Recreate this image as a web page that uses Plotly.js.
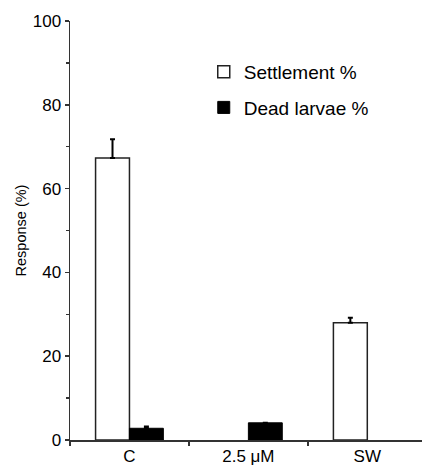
<!DOCTYPE html>
<html>
<head>
<meta charset="utf-8">
<script src="https://cdn.plot.ly/plotly-3.0.1.min.js"></script>
<style>html,body{margin:0;padding:0;background:#fff;}#chart{width:422px;height:466px;}</style>
</head>
<body>
<div id="chart"></div>
<script>
var categories = ["C", "2.5 \u03bcM", "SW"];
var settlement = [67.3, null, 28.0];
var settlementErr = [4.5, 0, 1.2];
var deadLarvae = [2.8, 4.1, null];
var deadErr = [0.4, 0, 0];
var yTicks = [0, 20, 40, 60, 80, 100];

var font = "Liberation Sans, Arial, Helvetica, sans-serif";

var traces = [
  {
    type: "bar", name: "Settlement %", x: categories, y: settlement,
    legendgroup: "a",
    marker: {color: "#ffffff", line: {color: "#222222", width: 1.5}},
    error_y: {type: "data", symmetric: false, array: settlementErr, arrayminus: [0,0,0],
              color: "#000", thickness: 2, width: 2.5}
  },
  {
    type: "bar", name: "Dead larvae %", x: categories, y: deadLarvae,
    legendgroup: "b",
    marker: {color: "#000000", line: {color: "#000000", width: 1}},
    error_y: {type: "data", symmetric: false, array: deadErr, arrayminus: [0,0,0],
              color: "#000", thickness: 2, width: 2.5}
  }
];

var layout = {
  width: 422, height: 466,
  margin: {l: 70, r: 0, t: 21, b: 26},
  paper_bgcolor: "#fff", plot_bgcolor: "#fff",
  font: {family: font, color: "#000", size: 17},
  barmode: "group", bargap: 0.43, bargroupgap: 0,
  showlegend: true,
  legend: {x: 0.38, y: 0.924, xanchor: "left", yanchor: "top",
           font: {size: 19, family: font}, bgcolor: "rgba(0,0,0,0)",
           tracegroupgap: 8, traceorder: "grouped"},
  xaxis: {
    type: "category", range: [-0.5, 2.46],
    showline: true, linecolor: "#333", linewidth: 1.5,
    ticks: "outside", tickson: "boundaries", ticklen: 4, tickcolor: "#333", tickwidth: 1.5,
    showgrid: false, zeroline: false, tickfont: {size: 17},
    fixedrange: true
  },
  yaxis: {
    range: [0, 100], tickvals: yTicks,
    showline: true, linecolor: "#333", linewidth: 1.5,
    ticks: "outside", ticklen: 4, tickcolor: "#333", tickwidth: 1.5,
    minor: {dtick: 10, ticks: "outside", ticklen: 3, tickcolor: "#333", tickwidth: 1.5},
    showgrid: false, zeroline: false, tickfont: {size: 17},
    title: {text: "Response (%)", font: {size: 14.5}, standoff: 2}
  }
};

Plotly.newPlot("chart", traces, layout, {staticPlot: true, displayModeBar: false});
</script>
</body>
</html>
